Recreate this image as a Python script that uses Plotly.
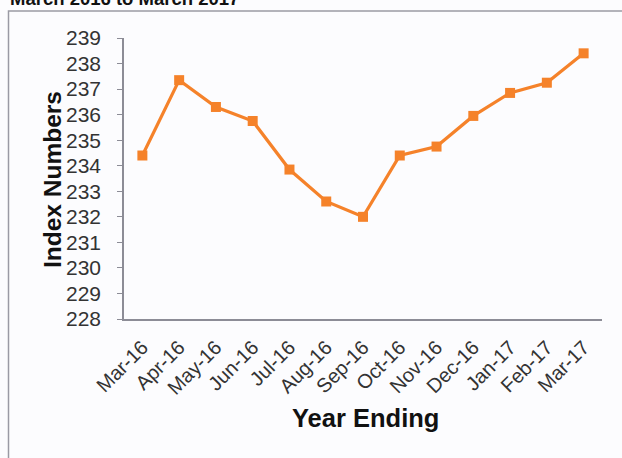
import plotly.graph_objects as go

months = ["Mar-16", "Apr-16", "May-16", "Jun-16", "Jul-16", "Aug-16", "Sep-16",
          "Oct-16", "Nov-16", "Dec-16", "Jan-17", "Feb-17", "Mar-17"]
index_values = [234.4, 237.35, 236.3, 235.75, 233.85, 232.6, 232.0,
                234.4, 234.75, 235.95, 236.85, 237.25, 238.4]
y_ticks = list(range(228, 240))

W, H = 622, 458
L, R, T, B = 124, 20, 38, 139
pw, ph = W - L - R, H - T - B

def px_x(p):
    return (p - L) / pw

def px_y(p):
    return (H - B - p) / ph

font_family = "Liberation Sans, Arial, sans-serif"

fig = go.Figure()
fig.add_trace(go.Scatter(
    x=list(range(len(months))), y=index_values, mode="lines+markers",
    line=dict(color="#F5822A", width=3.2),
    marker=dict(symbol="square", size=10, color="#F5822A"),
    showlegend=False, hoverinfo="skip",
))

fig.update_layout(
    width=W, height=H,
    margin=dict(l=L, r=R, t=T, b=B),
    paper_bgcolor="#FCFCFE", plot_bgcolor="#FCFCFE",
    font=dict(family=font_family, color="#333333"),
    xaxis=dict(
        range=[-0.5, 12.5], tickmode="array",
        tickvals=list(range(len(months))), ticktext=months,
        tickangle=-45, tickfont=dict(size=20, color="#333333"),
        ticklabelstandoff=7,
        showgrid=False, zeroline=False, showline=True,
        linecolor="#8C8C96", linewidth=1.5, ticks="",
    ),
    yaxis=dict(
        range=[228, 239], tickmode="array", tickvals=y_ticks,
        tickfont=dict(size=21, color="#333333"),
        ticklabelstandoff=12,
        showgrid=False, zeroline=False, showline=True,
        linecolor="#8C8C96", linewidth=1.5,
        ticks="outside", ticklen=5, tickcolor="#8C8C96", tickwidth=1,
    ),
    annotations=[
        dict(text="<b>Index Numbers</b>", xref="paper", yref="paper",
             x=px_x(53), y=px_y(180), textangle=-90, showarrow=False,
             xanchor="center", yanchor="middle",
             font=dict(size=24.5, color="#111111", family=font_family)),
        dict(text="<b>Year Ending</b>", xref="paper", yref="paper",
             x=px_x(365), y=px_y(418), showarrow=False,
             xanchor="center", yanchor="middle",
             font=dict(size=25.5, color="#111111", family=font_family)),
        dict(text="<b>March 2016 to March 2017</b>", xref="paper", yref="paper",
             x=px_x(8), y=px_y(-1), showarrow=False,
             xanchor="left", yanchor="middle",
             font=dict(size=18.5, color="#111111", family=font_family)),
    ],
    shapes=[
        dict(type="rect", xref="paper", yref="paper",
             x0=px_x(8.5), x1=px_x(650), y0=px_y(11), y1=px_y(480),
             line=dict(color="#9A9AA4", width=1.5), layer="below"),
    ],
)

fig.write_html(
    "out.html",
    config={"displayModeBar": False},
    post_script="document.body.style.margin='0';document.body.style.overflow='hidden';",
)
